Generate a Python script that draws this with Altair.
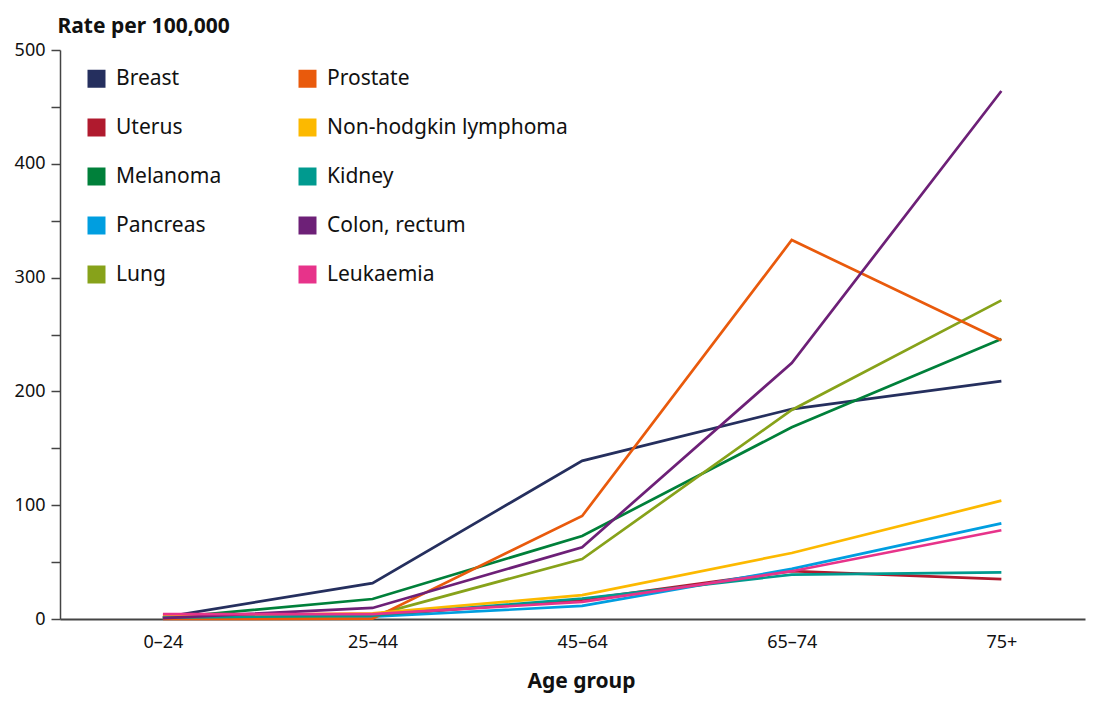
import altair as alt
import pandas as pd

age_groups = ["0–24", "25–44", "45–64", "65–74", "75+"]
cancers = ["Breast", "Uterus", "Melanoma", "Pancreas", "Lung",
           "Prostate", "Non-hodgkin lymphoma", "Kidney", "Colon, rectum", "Leukaemia"]
colors = ["#252F5E", "#B01A2E", "#00803A", "#009EE0", "#87A21A",
          "#E95A0C", "#FCB900", "#009A8F", "#6D2077", "#E7338A"]

breast = [1.5, 31.5, 139, 184.5, 209]
uterus = [1.0, 3.0, 17, 42, 35]
melanoma = [0.8, 17.6, 73, 168.5, 246]
pancreas = [0.4, 2.0, 11.5, 44, 84]
lung = [0.3, 3.0, 52.7, 183.7, 280]
prostate = [0.1, 0.3, 90.5, 333, 245]
nhl = [2.8, 5.0, 21, 58, 104]
kidney = [1.2, 3.0, 18, 39, 41]
colon = [0.8, 9.7, 63, 225, 464]
leukaemia = [4.2, 4.3, 15, 42, 78]

series = [breast, uterus, melanoma, pancreas, lung, prostate, nhl, kidney, colon, leukaemia]

rows = []
for name, vals in zip(cancers, series):
    for i, (ag, v) in enumerate(zip(age_groups, vals)):
        rows.append({"Cancer": name, "idx": i, "Age": ag, "Rate": v})
df = pd.DataFrame(rows)

FONT = "Noto Sans"
label_expr = "[" + ",".join(f"'{a}'" for a in age_groups) + "][datum.value]"

x_enc = alt.X("idx:Q",
              scale=alt.Scale(domain=[-0.491, 4.399], nice=False, zero=False),
              axis=alt.Axis(values=[0, 1, 2, 3, 4], labelExpr=label_expr, ticks=False,
                            grid=False, domainColor="#444444", domainWidth=2,
                            labelFont=FONT, labelFontSize=18, labelColor="#111111",
                            labelPadding=14, title="Age group", titleFont=FONT,
                            titleFontSize=21, titleFontWeight="bold", titleColor="#111111",
                            titleX=521, titleAlign="center",
                            titleY=68, titleBaseline="alphabetic"))
y_enc = alt.Y("Rate:Q",
              scale=alt.Scale(domain=[0, 500], nice=False),
              axis=alt.Axis(values=list(range(0, 501, 50)),
                            labelExpr="datum.value % 100 == 0 ? datum.label : ''",
                            grid=False, domainColor="#444444", domainWidth=1.5,
                            tickColor="#444444", tickSize=9, tickWidth=1.5,
                            labelFont=FONT, labelFontSize=18, labelColor="#111111",
                            labelPadding=6,
                            title="Rate per 100,000", titleFont=FONT, titleFontSize=21,
                            titleFontWeight="bold", titleColor="#111111", titleAngle=0,
                            titleAlign="left", titleX=-3, titleY=-18,
                            titleBaseline="alphabetic"))
color_enc = alt.Color("Cancer:N",
                      scale=alt.Scale(domain=cancers, range=colors),
                      legend=alt.Legend(title=None, orient="none", legendX=26, legendY=18,
                                        columns=2, symbolType="square", symbolSize=324,
                                        symbolStrokeWidth=0, symbolOpacity=1,
                                        labelFont=FONT, labelFontSize=21,
                                        labelColor="#111111", labelOffset=9,
                                        rowPadding=27, columnPadding=75,
                                        labelLimit=400))

base = alt.Chart(df)
lines = base.mark_line(strokeWidth=2.7).encode(x=x_enc, y=y_enc, color=color_enc,
                                                detail="Cancer:N")
pts = base.mark_point(filled=True, shape="square", opacity=0, size=1).encode(
    x=x_enc, y=y_enc, color=color_enc)

chart = alt.layer(lines, pts).properties(
    width=1025, height=569,
    autosize=alt.AutoSizeParams(type="none"),
    padding={"left": 52, "top": 42, "right": 6, "bottom": 77},
).configure_view(stroke=None)

chart.save("out.html", embed_options={"renderer": "svg", "actions": False})
